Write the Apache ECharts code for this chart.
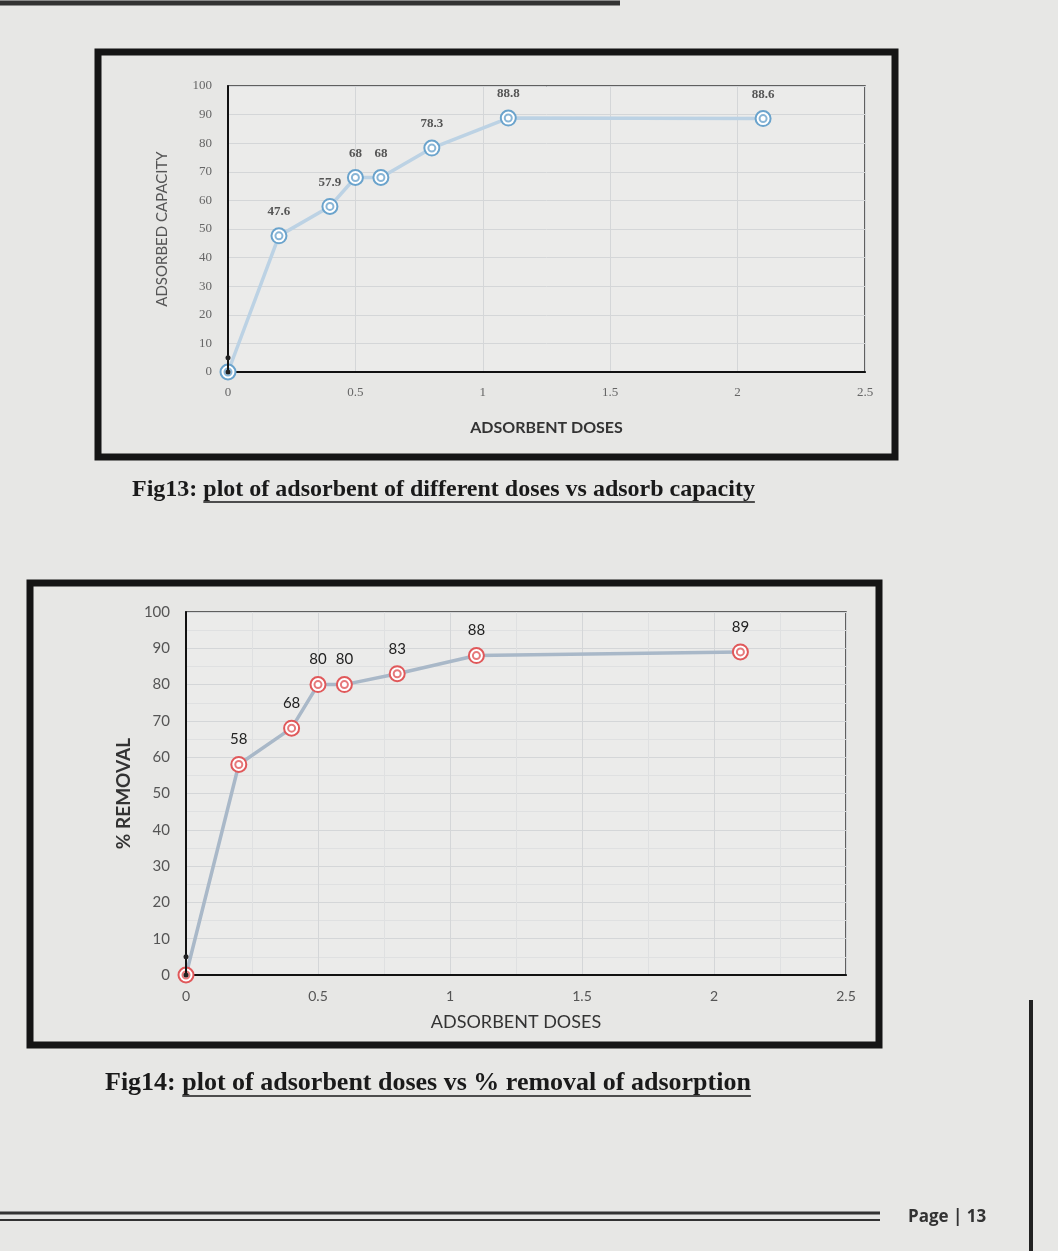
<!DOCTYPE html>
<html>
<head>
<meta charset="utf-8">
<script src="https://cdn.jsdelivr.net/npm/echarts@6/dist/echarts.min.js"></script>
<style>
html,body{margin:0;padding:0;background:#e7e7e5;}
#c{width:1058px;height:1251px;}
</style>
</head>
<body>
<div id="c"></div>
<script>
// ---- data ----
const doses = [0, 0.2, 0.4, 0.5, 0.6, 0.8, 1.1, 2.1];
const adsorbedCapacity = [0, 47.6, 57.9, 68, 68, 78.3, 88.8, 88.6];
const percentRemoval = [0, 58, 68, 80, 80, 83, 88, 89];
const originDoses = [0, 0];
const originValues = [0, 5];
const xTickMin = 0, xTickMax = 2.5, xTickStep = 0.5;
const yTickMin = 0, yTickMax = 100, yTickStep = 10;
const caption1Prefix = 'Fig13: ';
const caption1Body = 'plot of adsorbent of different doses vs adsorb capacity';
const caption2Prefix = 'Fig14: ';
const caption2Body = 'plot of adsorbent doses vs % removal of adsorption';
const pageLabel = 'Page | 13';

const pairs = (xs, ys) => xs.map((x, i) => [x, ys[i]]);
const chart = echarts.init(document.getElementById('c'), null, {renderer: 'canvas'});

const ctx = document.createElement('canvas').getContext('2d');
function w(text, font){ ctx.font = font; return ctx.measureText(text).width; }

function caption(prefix, body, x, y, size){
  const font = 'bold ' + size + 'px "Liberation Serif"';
  const pw = w(prefix, font), bw = w(body, font);
  return [
    {type:'text', left:x, top:y, style:{text:prefix, font:font, fill:'#1a1a1a'}},
    {type:'text', left:x+pw, top:y, style:{text:body, font:font, fill:'#1a1a1a'}},
    {type:'line', shape:{x1:x+pw, y1:y+size, x2:x+pw+bw, y2:y+size}, style:{stroke:'#1a1a1a', lineWidth:1.6}}
  ];
}

function xAxis(gi, font, size, color, nameSize, nameGap, nameWeight){
  return {
    type:'value', gridIndex:gi, min:xTickMin, max:xTickMax, interval:xTickStep,
    name:'ADSORBENT DOSES', nameLocation:'middle', nameGap:nameGap,
    nameTextStyle:{fontFamily:'Lato', fontSize:nameSize, color:'#333', fontWeight:nameWeight},
    axisLine:{show:true, onZero:false, lineStyle:{color:'#111', width:2}},
    axisTick:{show:false},
    axisLabel:{fontFamily:font, fontSize:size, color:color, margin:14,
      formatter: v => String(v)},
    splitLine:{show:true, lineStyle:{color:'#d4d6d8', width:1}},
    minorTick:{show:false, splitNumber:2},
    minorSplitLine:{show: gi===1, lineStyle:{color:'#dfe0e1', width:1}}
  };
}
function yAxis(gi, name, font, size, color, nameSize, nameGap, nameWeight, nameColor){
  return {
    type:'value', gridIndex:gi, min:yTickMin, max:yTickMax, interval:yTickStep,
    name:name, nameLocation:'middle', nameGap:nameGap, nameRotate:90,
    nameTextStyle:{fontFamily:'Lato', fontSize:nameSize, color:nameColor, fontWeight:nameWeight},
    axisLine:{show:true, lineStyle:{color:'#111', width:2}},
    axisTick:{show:false},
    axisLabel:{fontFamily:font, fontSize:size, color:color, margin:16},
    splitLine:{show:true, lineStyle:{color:'#d4d6d8', width:1}},
    minorTick:{show:false, splitNumber:2},
    minorSplitLine:{show: gi===1, lineStyle:{color:'#dfe0e1', width:1}}
  };
}

function mainSeries(gi, data, lineColor, ringColor, labelFont, labelSize, labelColor, labelWeight){
  return [
    {type:'line', xAxisIndex:gi, yAxisIndex:gi, data:data, z:3,
     lineStyle:{color:lineColor, width:3.5},
     symbol:'emptyCircle', symbolSize:15,
     itemStyle:{color:ringColor, borderColor:ringColor, borderWidth:2},
     label:{show:true, position:'top', distance:9, fontFamily:labelFont, fontSize:labelSize,
            color:labelColor, fontWeight:labelWeight,
            formatter: p => p.value[1] === 0 ? '' : String(p.value[1])},
     animation:false},
    {type:'scatter', xAxisIndex:gi, yAxisIndex:gi, data:data, z:4,
     symbol:'emptyCircle', symbolSize:7,
     itemStyle:{color:ringColor, borderColor:ringColor, borderWidth:1.5},
     animation:false}
  ];
}
function originSeries(gi){
  return {type:'line', xAxisIndex:gi, yAxisIndex:gi, data:pairs(originDoses, originValues), z:5,
    lineStyle:{color:'#111', width:2}, symbol:'circle', symbolSize:5,
    itemStyle:{color:'#222'}, animation:false};
}

const graphics = [].concat(
  [{type:'rect', shape:{x:98, y:52, width:797, height:405}, style:{fill:'none', stroke:'#151515', lineWidth:7}, z:-1},
   {type:'rect', shape:{x:30, y:583, width:849, height:462}, style:{fill:'none', stroke:'#151515', lineWidth:7}, z:-1},
   {type:'line', shape:{x1:1031, y1:1000, x2:1031, y2:1251}, style:{stroke:'#222', lineWidth:4}},
   {type:'line', shape:{x1:0, y1:1213, x2:880, y2:1213}, style:{stroke:'#333', lineWidth:3}},
   {type:'line', shape:{x1:0, y1:1220, x2:880, y2:1220}, style:{stroke:'#333', lineWidth:2}},
   {type:'line', shape:{x1:0, y1:3, x2:620, y2:3}, style:{stroke:'#333', lineWidth:5}},
   {type:'text', left:908, top:1209, style:{text:pageLabel, font:'bold 17px "Open Sans"', fill:'#333'}}],
  caption(caption1Prefix, caption1Body, 132, 478, 24),
  caption(caption2Prefix, caption2Body, 105, 1070, 26)
);

chart.setOption({
  backgroundColor:'#e7e7e5',
  animation:false,
  grid:[
    {left:228, right:193, top:86, bottom:879, show:true, borderColor:'#333', borderWidth:1.5, backgroundColor:'#ebebea'},
    {left:186, right:212, top:612, bottom:276, show:true, borderColor:'#333', borderWidth:1.5, backgroundColor:'#ebebea'}
  ],
  xAxis:[
    xAxis(0, 'Liberation Serif', 13, '#666', 16, 48, 'bold'),
    xAxis(1, 'Lato', 14, '#555', 18, 38, 'normal')
  ],
  yAxis:[
    yAxis(0, 'ADSORBED CAPACITY', 'Liberation Serif', 13, '#666', 15, 58, 'normal', '#555'),
    yAxis(1, '% REMOVAL', 'Lato', 15, '#555', 19, 32, 'bold', '#333')
  ],
  graphic: graphics,
  series: [].concat(
    mainSeries(0, pairs(doses, adsorbedCapacity), '#bcd2e4', '#6aa3cc', 'Liberation Serif', 13, '#555', 'bold'),
    [originSeries(0)],
    mainSeries(1, pairs(doses, percentRemoval), '#a9b8c8', '#e0585a', 'Lato', 15, '#222', 'normal'),
    [originSeries(1)]
  )
});
</script>
</body>
</html>
